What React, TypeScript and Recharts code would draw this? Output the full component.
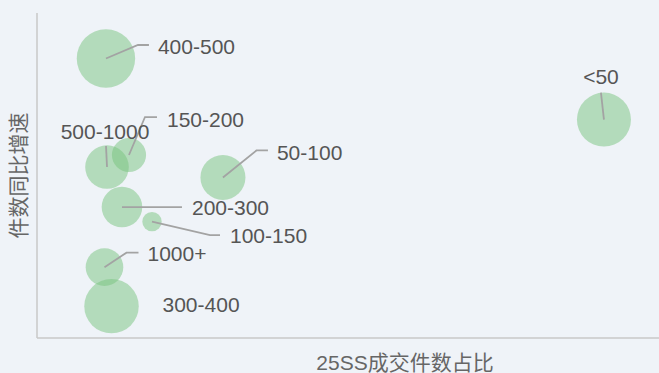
import React from 'react';
import { ScatterChart, Scatter, XAxis, YAxis, ZAxis } from 'recharts';

// 价格段
const categories = ['400-500', '150-200', '500-1000', '50-100', '200-300', '100-150', '1000+', '300-400', '<50'];
// 25SS成交件数占比 (%)
const countShare = [5.21, 6.95, 5.29, 14.05, 6.42, 8.69, 5.1, 5.63, 42.84];
// 件数同比增速 (%)
const countGrowth = [46.0, 16.3, 12.6, 9.4, 0.3, -4.2, -18.2, -30.2, 27.2];
// 气泡大小
const bubbleSize = [19.13, 6.56, 10.66, 11.36, 9.25, 2.11, 7.93, 16.63, 16.36];

// 标签引导线：相对气泡中心的偏移 (折点, 终点, 文字)
const labelLayout = [
  { elbow: [32, -13.5], end: [43, -13.5], text: [52, -12], anchor: 'start' },
  { elbow: [16, -38], end: [28, -38], text: [38, -36], anchor: 'start' },
  { elbow: [-1, -21], end: [-1, -21], text: [-2, -36], anchor: 'middle' },
  { elbow: [33.5, -27], end: [45, -27], text: [54, -25.5], anchor: 'start' },
  { elbow: [50, 0], end: [60, 0], text: [70, 0], anchor: 'start' },
  { elbow: [58, 13.5], end: [68, 13.5], text: [78, 14], anchor: 'start' },
  { elbow: [22, -14.5], end: [34, -14.5], text: [43, -13.5], anchor: 'start' },
  { elbow: null, end: null, text: [51, -2], anchor: 'start' },
  { elbow: [-3, -27], end: [-3, -27], text: [-3, -43], anchor: 'middle' },
];

const data = categories.map((name, i) => ({
  name,
  idx: i,
  x: countShare[i],
  y: countGrowth[i],
  z: bubbleSize[i],
}));

const FONT = '"Liberation Sans", Arial, "Noto Sans CJK SC", sans-serif';

const Bubble = (props: any) => {
  const { cx, cy, width, size } = props;
  const r = width ? width / 2 : Math.sqrt((size || 0) / Math.PI);
  return <circle cx={cx} cy={cy} r={r} fill="#78c37d" fillOpacity={0.5} />;
};

const BubbleLabel = (props: any) => {
  const { cx, cy, payload } = props;
  const l = labelLayout[payload.idx];
  return (
    <g>
      {l.end && (
        <polyline
          points={`${cx},${cy} ${cx + l.elbow![0]},${cy + l.elbow![1]} ${cx + l.end[0]},${cy + l.end[1]}`}
          fill="none"
          stroke="#a3a3a3"
          strokeWidth={1.8}
        />
      )}
      <text
        x={cx + l.text[0]}
        y={cy + l.text[1]}
        dy="0.36em"
        textAnchor={l.anchor as any}
        fontSize={21}
        fill="#555"
        fontFamily={FONT}
      >
        {payload.name}
      </text>
    </g>
  );
};

export default function App() {
  return (
    <div
      style={{
        position: 'absolute',
        left: 0,
        top: 0,
        width: 659,
        height: 373,
        background: '#eff3f8',
        overflow: 'hidden',
        fontFamily: FONT,
      }}
    >
      <ScatterChart width={659} height={373} margin={{ top: 13, right: 0, bottom: 0, left: 0 }}>
        <XAxis
          type="number"
          dataKey="x"
          domain={[0, 47]}
          height={35}
          tick={false}
          tickLine={false}
          axisLine={{ stroke: '#c8c8c8', strokeWidth: 1.5 }}
          label={{ value: '25SS成交件数占比', position: 'insideBottom', offset: 3, dx: 57, fill: '#666', fontSize: 21 }}
        />
        <YAxis
          type="number"
          dataKey="y"
          domain={[-40, 60]}
          width={37}
          tick={false}
          tickLine={false}
          axisLine={{ stroke: '#c8c8c8', strokeWidth: 1.5 }}
          label={{ value: '件数同比增速', angle: -90, position: 'center', fill: '#666', fontSize: 21 }}
        />
        <ZAxis type="number" dataKey="z" domain={[0, 20]} range={[0, 2800]} />
        <Scatter data={data} shape={<Bubble />} isAnimationActive={false} />
        <Scatter data={data} shape={<BubbleLabel />} isAnimationActive={false} />
      </ScatterChart>
    </div>
  );
}
